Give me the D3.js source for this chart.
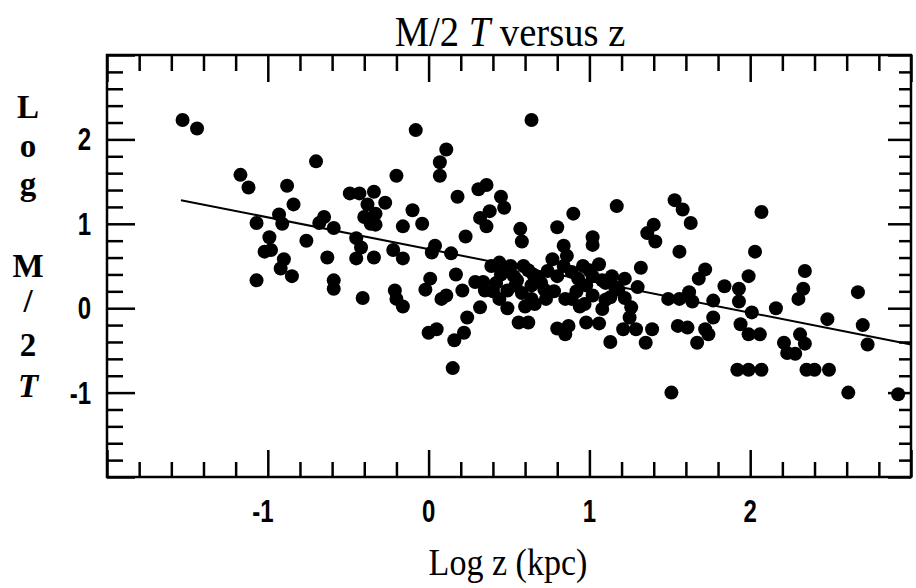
<!DOCTYPE html>
<html>
<head>
<meta charset="utf-8">
<script src="https://cdn.jsdelivr.net/npm/d3@7"></script>
<style>
  body { margin: 0; background: #fff; }
  svg { display: block; }
  .serif { font-family: "Liberation Serif", "DejaVu Serif", serif; }
  .ticklab { font-family: "Liberation Sans", "DejaVu Sans", sans-serif; font-weight: bold; }
</style>
</head>
<body>
<svg id="chart" width="916" height="588"></svg>
<script>
// log z (kpc) of each object
var logZ = [
  -1.53, -1.44, -1.17, -1.12, -0.88, -0.84, -1.07, -0.93, -0.91, -0.99,
  -1.02, -0.98, -0.90, -0.92, -0.85, -1.07, -0.76, -0.70, -0.65, -0.68,
  -0.59, -0.63, -0.59, -0.59, -0.49, -0.43, -0.34, -0.27, -0.38, -0.40,
  -0.33, -0.33, -0.36, -0.45, -0.42, -0.45, -0.34, -0.20, -0.08, -0.10,
  -0.16, -0.04, -0.22, -0.16, -0.41, -0.21, -0.20, -0.16, -0.02, 0.01,
  0.00, 0.04, 0.11, 0.07, 0.07, 0.64, 0.31, 0.36, 0.18, 0.45,
  0.47, 0.38, 0.32, 0.36, 0.23, 0.57, 0.58, 0.02, 0.14, 0.17,
  0.29, 0.34, 0.35, 0.21, 0.11, 0.08, 0.32, 0.24, 0.22, 0.16,
  0.05, 0.15, 0.39, 0.44, 0.45, 0.51, 0.59, 0.53, 0.49, 0.44,
  0.49, 0.56, 0.62, 0.65, 0.64, 0.64, 0.73, 0.80, 0.84, 0.77,
  0.74, 0.84, 0.85, 0.80, 0.85, 0.90, 1.17, 1.02, 1.02, 0.86,
  0.89, 0.96, 1.06, 1.14, 1.22, 1.02, 0.98, 1.02, 1.13, 0.89,
  1.08, 0.87, 0.98, 1.06, 1.13, 1.26, 1.25, 1.21, 1.29, 1.35,
  1.39, 1.32, 1.40, 1.36, 1.41, 1.53, 1.58, 1.63, 1.56, 1.49,
  1.56, 1.62, 1.64, 1.55, 1.61, 1.67, 1.51, 1.68, 1.72, 2.07,
  2.03, 1.99, 1.84, 1.93, 1.93, 1.77, 1.77, 1.72, 1.74, 2.01,
  1.94, 1.99, 2.06, 2.16, 2.34, 2.33, 2.30, 2.31, 2.34, 2.21,
  2.23, 2.28, 2.48, 1.92, 1.99, 2.07, 2.35, 2.40, 2.49, 2.67,
  2.70, 2.73, 2.61, 2.92, 0.54, 0.70, 0.93, 1.10, 0.60, 0.94,
  1.18, 0.78, 1.30, 0.42, 0.48, 0.55, 0.62, 0.68, 0.72, 0.58,
  0.80, 0.92, 1.00, 1.08, 1.16, 1.22, 0.66, 0.97, 1.10, 0.40
];
// log M/2T of each object
var logM = [
  2.23, 2.13, 1.58, 1.43, 1.45, 1.23, 1.01, 1.11, 1.00, 0.84,
  0.67, 0.69, 0.58, 0.47, 0.38, 0.33, 0.80, 1.74, 1.08, 1.01,
  0.95, 0.60, 0.33, 0.23, 1.36, 1.36, 1.38, 1.25, 1.23, 1.08,
  1.12, 0.99, 1.00, 0.83, 0.72, 0.59, 0.60, 1.57, 2.11, 1.16,
  0.97, 1.00, 0.69, 0.59, 0.12, 0.21, 0.11, 0.02, 0.22, 0.35,
  -0.29, 0.74, 1.88, 1.73, 1.57, 2.23, 1.41, 1.46, 1.32, 1.32,
  1.19, 1.15, 1.07, 0.97, 0.85, 0.94, 0.79, 0.66, 0.65, 0.40,
  0.31, 0.31, 0.21, 0.21, 0.15, 0.11, 0.01, -0.11, -0.29, -0.38,
  -0.25, -0.71, 0.50, 0.54, 0.40, 0.50, 0.50, 0.38, 0.21, 0.11,
  0.00, -0.17, -0.17, 0.40, 0.27, 0.11, 0.11, 0.96, 0.74, 0.58,
  0.44, 0.50, 0.11, -0.24, -0.31, 1.12, 1.21, 0.84, 0.75, 0.62,
  0.43, 0.50, 0.52, 0.38, 0.35, 0.38, 0.27, 0.15, 0.13, 0.11,
  -0.01, -0.21, -0.17, -0.18, -0.40, 0.01, -0.11, -0.25, -0.25, -0.41,
  -0.25, 0.48, 0.99, 0.89, 0.79, 1.28, 1.17, 1.01, 0.67, 0.11,
  0.11, 0.19, 0.08, -0.21, -0.23, -0.41, -1.00, 0.35, 0.46, 1.14,
  0.67, 0.38, 0.26, 0.23, 0.08, 0.09, -0.11, -0.25, -0.31, -0.05,
  -0.19, -0.31, -0.31, 0.00, 0.44, 0.23, 0.11, -0.31, -0.42, -0.41,
  -0.53, -0.54, -0.13, -0.73, -0.73, -0.73, -0.73, -0.73, -0.73, 0.19,
  -0.20, -0.43, -1.00, -1.02, 0.27, 0.30, 0.35, 0.30, 0.02, 0.02,
  0.22, 0.20, 0.25, 0.30, 0.45, 0.33, 0.45, 0.36, 0.22, 0.18,
  0.38, 0.20, 0.45, 0.33, 0.25, 0.12, 0.05, 0.05, 0.10, 0.20
];
// fitted line end points
var fitX = [-1.54, 3.0];
var fitY = [1.28, -0.43];

var xTicks = [-1, 0, 1, 2];
var yTicks = [-1, 0, 1, 2];
var titleParts = ["M/2 ", "T", " versus z"];
var xTitle = "Log z (kpc)";
var yTitle = ["L", "o", "g", "", "M", "/", "2", "T"];

var svg = d3.select("#chart");
// note: "top" is taken by window.top, so use plot* names
var plotLeft = 107, plotRight = 911, plotTop = 55, plotBottom = 477;

var x = d3.scaleLinear().domain([-2, 3]).range([plotLeft, plotRight]);
var y = d3.scaleLinear().domain([-2, 3]).range([plotBottom, plotTop]);

// minor ticks every 0.2, skipping the whole numbers
function minors(lo, hi) {
  var out = [];
  for (var i = Math.round(lo * 5); i <= Math.round(hi * 5); i++) {
    if (i % 5 !== 0) out.push(i / 5);
  }
  return out;
}
var xMinor = minors(-2, 3), yMinor = minors(-2, 3);
var xMajor = [-2, -1, 0, 1, 2, 3], yMajor = [-2, -1, 0, 1, 2, 3];

function drawAxis(axisFn, scale, tr, vals, len) {
  var g = svg.append("g")
    .attr("transform", tr)
    .call(axisFn(scale).tickValues(vals).tickSize(-len).tickFormat(""));
  g.select(".domain").remove();
  g.selectAll(".tick line").attr("stroke", "#000").attr("stroke-width", 2.5);
  return g;
}

drawAxis(d3.axisBottom, x, "translate(0," + plotBottom + ")", xMinor, 15);
drawAxis(d3.axisBottom, x, "translate(0," + plotBottom + ")", xMajor, 27);
drawAxis(d3.axisTop, x, "translate(0," + plotTop + ")", xMinor, 16);
drawAxis(d3.axisTop, x, "translate(0," + plotTop + ")", xMajor, 27);
drawAxis(d3.axisLeft, y, "translate(" + plotLeft + ",0)", yMinor, 16);
drawAxis(d3.axisLeft, y, "translate(" + plotLeft + ",0)", yMajor, 28);
drawAxis(d3.axisRight, y, "translate(" + plotRight + ",0)", yMinor, 12);
drawAxis(d3.axisRight, y, "translate(" + plotRight + ",0)", yMajor, 23);

// frame
svg.append("rect")
  .attr("x", plotLeft).attr("y", plotTop)
  .attr("width", plotRight - plotLeft).attr("height", plotBottom - plotTop)
  .attr("fill", "none").attr("stroke", "#000").attr("stroke-width", 2.5);

// tick labels, squeezed sideways to look like the narrow original digits
svg.append("g").selectAll("text")
  .data(xTicks).join("text")
  .attr("class", "ticklab")
  .attr("transform", function (d) {
    return "translate(" + (x(d) - (d < 0 ? 5 : 0)) + ",522) scale(0.75,1)";
  })
  .attr("text-anchor", "middle")
  .attr("font-size", 32)
  .text(function (d) { return d; });

svg.append("g").selectAll("text")
  .data(yTicks).join("text")
  .attr("class", "ticklab")
  .attr("transform", function (d) {
    return "translate(91," + (y(d) + 11) + ") scale(0.75,1)";
  })
  .attr("text-anchor", "end")
  .attr("font-size", 32)
  .text(function (d) { return d; });

// points
svg.append("g").selectAll("circle")
  .data(d3.range(logZ.length)).join("circle")
  .attr("cx", function (i) { return x(logZ[i]); })
  .attr("cy", function (i) { return y(logM[i]); })
  .attr("r", 7)
  .attr("fill", "#000");

// fitted line
svg.append("path")
  .datum(d3.range(fitX.length))
  .attr("d", d3.line()
    .x(function (i) { return x(fitX[i]); })
    .y(function (i) { return y(fitY[i]); }))
  .attr("fill", "none").attr("stroke", "#000").attr("stroke-width", 2);

// title
var title = svg.append("text")
  .attr("class", "serif")
  .attr("transform", "translate(510,46) scale(0.92,1)")
  .attr("text-anchor", "middle")
  .attr("font-size", 42);
title.selectAll("tspan")
  .data(titleParts).join("tspan")
  .attr("font-style", function (d, i) { return i === 1 ? "italic" : "normal"; })
  .text(function (d) { return d; });

// x axis title
svg.append("text")
  .attr("class", "serif")
  .attr("transform", "translate(508,575) scale(0.92,1)")
  .attr("text-anchor", "middle")
  .attr("font-size", 37)
  .text(xTitle);

// y axis title, one letter per line
var yPos = [118, 157, 195, 0, 277, 312, 356, 397];
svg.append("g").selectAll("text")
  .data(d3.range(yTitle.length)).join("text")
  .attr("class", "serif")
  .attr("x", 28)
  .attr("y", function (i) { return yPos[i]; })
  .attr("text-anchor", "middle")
  .attr("font-size", 33)
  .attr("font-weight", "bold")
  .attr("font-style", function (i) { return yTitle[i] === "T" ? "italic" : "normal"; })
  .text(function (i) { return yTitle[i]; });
</script>
</body>
</html>
